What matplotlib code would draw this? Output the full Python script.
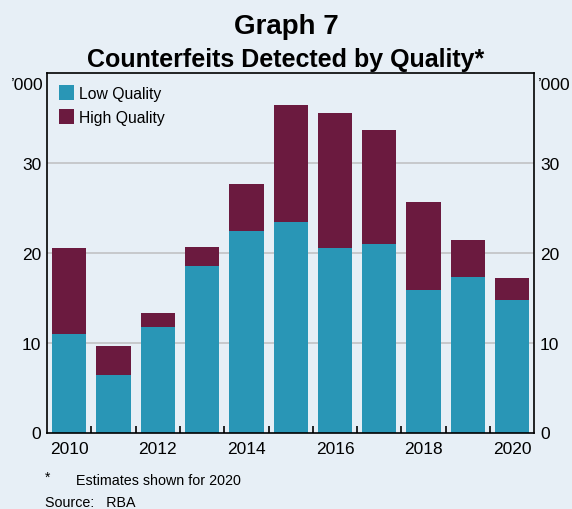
import numpy as np
import matplotlib.pyplot as plt
from matplotlib.patches import Patch

years = [2010, 2011, 2012, 2013, 2014, 2015, 2016, 2017, 2018, 2019, 2020]
low_quality = [10.95, 6.4, 11.7, 18.55, 22.5, 23.4, 20.55, 21.0, 15.9, 17.35, 14.75]
total = [20.6, 9.65, 13.35, 20.7, 27.7, 36.5, 35.65, 33.65, 25.7, 21.45, 17.2]
high_quality = [t - l for t, l in zip(total, low_quality)]
ytick_vals = [0, 10, 20, 30]

bg = '#e7eff6'
low_col = '#2996b6'
high_col = '#6b1a3f'

plt.rcParams['font.family'] = ['Liberation Sans', 'DejaVu Sans']

fig = plt.figure(figsize=(5.72, 5.10), dpi=100, facecolor=bg)
ax = fig.add_axes([0.0822, 0.150, 0.852, 0.704], facecolor=bg)
ax.set_axisbelow(False)

x = np.arange(len(years))
ax.bar(x, low_quality, width=0.775, color=low_col, zorder=2)
ax.bar(x, high_quality, width=0.775, bottom=low_quality, color=high_col, zorder=2)

ax.set_xlim(-0.5, len(years) - 0.5)
ax.set_ylim(0, 40)

for v in [10, 20, 30]:
    ax.axhline(v, color='#c4c6c8', linewidth=1.3, zorder=1)

ax.set_yticks(ytick_vals)
ax.tick_params(axis='y', length=0, labelsize=12.5, pad=4,
               labelleft=True, labelright=True)
ax.text(-0.008, 0.99, '’000', transform=ax.transAxes, ha='right', va='top',
        fontsize=12.5)
ax.text(1.008, 0.99, '’000', transform=ax.transAxes, ha='left', va='top',
        fontsize=12.5)

ax.set_xticks(x[::2])
ax.set_xticklabels([str(y) for y in years[::2]])
ax.set_xticks(x[:-1] + 0.5, minor=True)
ax.tick_params(axis='x', which='major', length=0, labelsize=12.5, pad=6)
ax.tick_params(axis='x', which='minor', direction='in', length=5, width=1.2,
               color='black')

for s in ax.spines.values():
    s.set_linewidth(1.2)
    s.set_color('black')
    s.set_zorder(4)

handles = [Patch(facecolor=low_col), Patch(facecolor=high_col)]
ax.legend(handles, ['Low Quality', 'High Quality'], loc='upper left',
          frameon=False, fontsize=11.3, handlelength=1.0, handleheight=1.1,
          handletextpad=0.3, labelspacing=0.5, borderaxespad=0.35,
          bbox_to_anchor=(0.0, 1.0))

fig.text(0.5, 0.947, 'Graph 7', ha='center', va='center',
         fontsize=20, fontweight='bold')
fig.text(0.5, 0.883, 'Counterfeits Detected by Quality*', ha='center', va='center',
         fontsize=18, fontweight='bold')

fig.text(0.079, 0.064, '*', ha='left', va='center', fontsize=10)
fig.text(0.133, 0.057, 'Estimates shown for 2020', ha='left', va='center', fontsize=10.3)
fig.text(0.078, 0.014, 'Source:   RBA', ha='left', va='center', fontsize=10.3)

fig.savefig('out.png', dpi=100, facecolor=bg)
